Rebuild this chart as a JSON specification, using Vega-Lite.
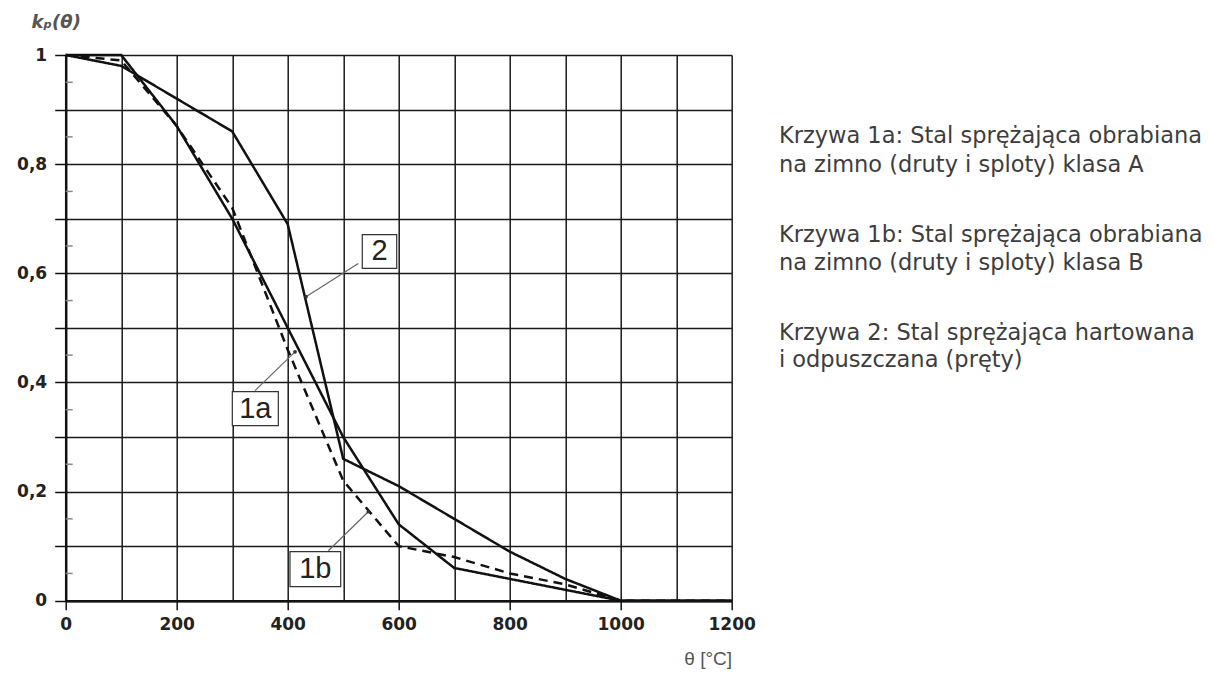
{
  "$schema": "https://vega.github.io/schema/vega-lite/v6.json",
  "width": 666,
  "height": 545.7,
  "autosize": {"type": "none"},
  "padding": {"left": 65.7, "top": 55, "right": 482.3, "bottom": 72.3},
  "background": "white",
  "config": {"view": {"stroke": null}},
  "datasets": {
    "curves": [
      {"T": 0, "kp": 1.0, "curve": "1a"}, {"T": 100, "kp": 1.0, "curve": "1a"}, {"T": 200, "kp": 0.87, "curve": "1a"}, {"T": 300, "kp": 0.70, "curve": "1a"}, {"T": 400, "kp": 0.50, "curve": "1a"}, {"T": 500, "kp": 0.30, "curve": "1a"}, {"T": 600, "kp": 0.14, "curve": "1a"}, {"T": 700, "kp": 0.06, "curve": "1a"}, {"T": 800, "kp": 0.04, "curve": "1a"}, {"T": 900, "kp": 0.02, "curve": "1a"}, {"T": 1000, "kp": 0.0, "curve": "1a"}, {"T": 1100, "kp": 0.0, "curve": "1a"}, {"T": 1200, "kp": 0.0, "curve": "1a"},
      {"T": 0, "kp": 1.0, "curve": "1b"}, {"T": 100, "kp": 0.99, "curve": "1b"}, {"T": 200, "kp": 0.87, "curve": "1b"}, {"T": 300, "kp": 0.72, "curve": "1b"}, {"T": 400, "kp": 0.46, "curve": "1b"}, {"T": 500, "kp": 0.22, "curve": "1b"}, {"T": 600, "kp": 0.10, "curve": "1b"}, {"T": 700, "kp": 0.08, "curve": "1b"}, {"T": 800, "kp": 0.05, "curve": "1b"}, {"T": 900, "kp": 0.03, "curve": "1b"}, {"T": 1000, "kp": 0.0, "curve": "1b"}, {"T": 1100, "kp": 0.0, "curve": "1b"}, {"T": 1200, "kp": 0.0, "curve": "1b"},
      {"T": 0, "kp": 1.0, "curve": "2"}, {"T": 100, "kp": 0.98, "curve": "2"}, {"T": 200, "kp": 0.92, "curve": "2"}, {"T": 300, "kp": 0.86, "curve": "2"}, {"T": 400, "kp": 0.69, "curve": "2"}, {"T": 500, "kp": 0.26, "curve": "2"}, {"T": 600, "kp": 0.21, "curve": "2"}, {"T": 700, "kp": 0.15, "curve": "2"}, {"T": 800, "kp": 0.09, "curve": "2"}, {"T": 900, "kp": 0.04, "curve": "2"}, {"T": 1000, "kp": 0.0, "curve": "2"}, {"T": 1100, "kp": 0.0, "curve": "2"}, {"T": 1200, "kp": 0.0, "curve": "2"}
    ],
    "minor": [
      {"m": 0.05}, {"m": 0.15}, {"m": 0.25}, {"m": 0.35}, {"m": 0.45}, {"m": 0.55}, {"m": 0.65}, {"m": 0.75}, {"m": 0.85}, {"m": 0.95}
    ],
    "labels": [
      {"label": "2", "bx1": 534.4, "bx2": 596.4, "by1": 0.609, "by2": 0.671, "tx": 565.4, "ty": 0.640, "lx1": 527.2, "ly1": 0.618, "lx2": 433, "ly2": 0.557},
      {"label": "1a", "bx1": 300.2, "bx2": 383.1, "by1": 0.321, "by2": 0.383, "tx": 341.6, "ty": 0.352, "lx1": 341.1, "ly1": 0.385, "lx2": 413.2, "ly2": 0.456},
      {"label": "1b", "bx1": 404.1, "bx2": 495.5, "by1": 0.0257, "by2": 0.0898, "tx": 449.8, "ty": 0.0577, "lx1": 473.2, "ly1": 0.0916, "lx2": 545.2, "ly2": 0.163}
    ],
    "notes": [
      {"text": "Krzywa 1a: Stal sprężająca obrabiana", "nx": 1285, "ny": 0.8382},
      {"text": "na zimno (druty i sploty) klasa A", "nx": 1285, "ny": 0.7861},
      {"text": "Krzywa 1b: Stal sprężająca obrabiana", "nx": 1285, "ny": 0.6579},
      {"text": "na zimno (druty i sploty) klasa B", "nx": 1285, "ny": 0.6060},
      {"text": "Krzywa 2: Stal sprężająca hartowana", "nx": 1285, "ny": 0.4778},
      {"text": "i odpuszczana (pręty)", "nx": 1285, "ny": 0.4288}
    ]
  },
  "layer": [
    {
      "data": {"name": "curves"},
      "mark": {"type": "line", "color": "#111", "strokeWidth": 2.5},
      "encoding": {
        "x": {
          "field": "T", "type": "quantitative",
          "scale": {"domain": [0, 1200], "nice": false},
          "axis": {
            "values": [0, 100, 200, 300, 400, 500, 600, 700, 800, 900, 1000, 1100, 1200],
            "format": "d",
            "grid": true, "gridColor": "#1a1a1a", "gridWidth": 1.5, "gridOpacity": 1,
            "domainColor": "#111", "domainWidth": 2.5,
            "tickColor": "#111", "tickWidth": 1.5, "tickSize": 9,
            "tickOpacity": {"condition": {"test": "datum.value % 200 === 0", "value": 1}, "value": 0},
            "labelExpr": "datum.value % 200 === 0 ? datum.label : ''",
            "labelFont": "DejaVu Sans", "labelFontWeight": "bold", "labelFontSize": 17, "labelColor": "#222",
            "labelPadding": 7, "labelFlush": false, "labelOverlap": false,
            "title": "θ [°C]", "titleX": 642, "titleY": 58, "titleAlign": "center", "titleBaseline": "middle",
            "titleFont": "Liberation Sans", "titleFontSize": 19, "titleFontWeight": "normal", "titleColor": "#555"
          }
        },
        "y": {
          "field": "kp", "type": "quantitative",
          "scale": {"domain": [0, 1], "nice": false},
          "axis": {
            "values": [0, 0.1, 0.2, 0.3, 0.4, 0.5, 0.6, 0.7, 0.8, 0.9, 1],
            "grid": true, "gridColor": "#1a1a1a", "gridWidth": 1.5, "gridOpacity": 1,
            "domainColor": "#111", "domainWidth": 2.5,
            "tickColor": "#111", "tickWidth": 1.5, "tickSize": 11,
            "labelExpr": "round(datum.value * 10) % 2 === 0 ? replace(format(datum.value, '.1~f'), '.', ',') : ''",
            "labelFont": "DejaVu Sans", "labelFontWeight": "bold", "labelFontSize": 17, "labelColor": "#222",
            "labelPadding": 8, "labelFlush": false, "labelOverlap": false,
            "title": "kₚ(θ)", "titleAngle": 0, "titleX": -10, "titleY": -33, "titleAlign": "center", "titleBaseline": "middle",
            "titleFont": "DejaVu Sans", "titleFontSize": 18, "titleFontWeight": "bold", "titleFontStyle": "italic", "titleColor": "#555"
          }
        },
        "detail": {"field": "curve"},
        "strokeDash": {
          "field": "curve", "type": "nominal",
          "scale": {"domain": ["1a", "1b", "2"], "range": [[1, 0], [9, 6], [1, 0]]},
          "legend": null
        }
      }
    },
    {
      "data": {"name": "minor"},
      "mark": {"type": "rule", "color": "#888", "strokeWidth": 1.5},
      "encoding": {
        "x": {"datum": 0, "type": "quantitative"},
        "x2": {"datum": 12.6},
        "y": {"field": "m", "type": "quantitative"}
      }
    },
    {
      "data": {"name": "labels"},
      "mark": {"type": "rule", "color": "#666", "strokeWidth": 1.2},
      "encoding": {
        "x": {"field": "lx1", "type": "quantitative"},
        "x2": {"field": "lx2"},
        "y": {"field": "ly1", "type": "quantitative"},
        "y2": {"field": "ly2"}
      }
    },
    {
      "data": {"name": "labels"},
      "mark": {"type": "point", "filled": true, "color": "#333", "size": 14, "opacity": 1},
      "encoding": {
        "x": {"field": "lx2", "type": "quantitative"},
        "y": {"field": "ly2", "type": "quantitative"}
      }
    },
    {
      "data": {"name": "labels"},
      "mark": {"type": "rect", "fill": "white", "stroke": "#333", "strokeWidth": 1.2},
      "encoding": {
        "x": {"field": "bx1", "type": "quantitative"},
        "x2": {"field": "bx2"},
        "y": {"field": "by1", "type": "quantitative"},
        "y2": {"field": "by2"}
      }
    },
    {
      "data": {"name": "labels"},
      "mark": {"type": "text", "font": "Liberation Sans", "fontSize": 29, "color": "#222", "align": "center", "baseline": "middle"},
      "encoding": {
        "x": {"field": "tx", "type": "quantitative"},
        "y": {"field": "ty", "type": "quantitative"},
        "text": {"field": "label"}
      }
    },
    {
      "data": {"name": "notes"},
      "mark": {"type": "text", "font": "DejaVu Sans", "fontSize": 22.5, "color": "#3d3d3d", "align": "left", "baseline": "alphabetic"},
      "encoding": {
        "x": {"field": "nx", "type": "quantitative"},
        "y": {"field": "ny", "type": "quantitative"},
        "text": {"field": "text"}
      }
    }
  ]
}
